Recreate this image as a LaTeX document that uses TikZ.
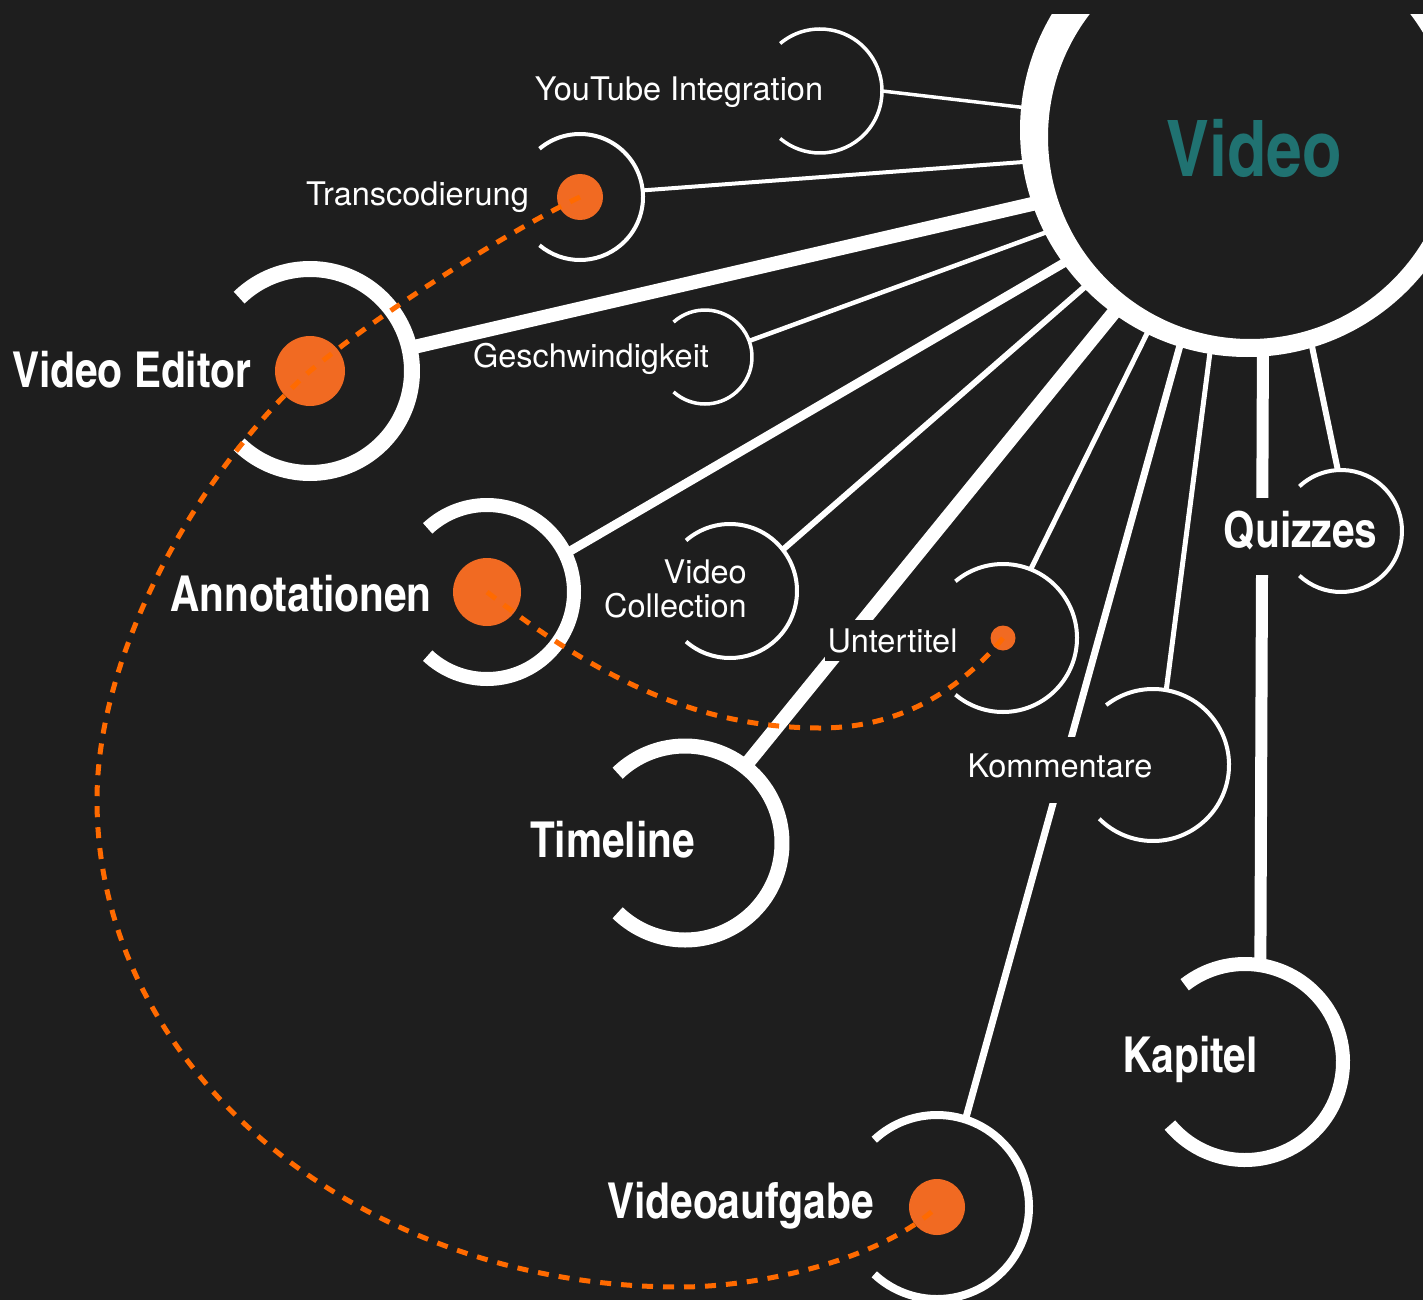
\documentclass[tikz,border=0pt]{standalone}
\usepackage{fontspec}
\setmainfont{TeX Gyre Heros}
\newfontfamily\condfont{texgyreheroscn-bold}[Extension=.otf]
\definecolor{bg}{RGB}{30,30,30}
\definecolor{videoteal}{RGB}{32,114,113}
\definecolor{dotorange}{RGB}{241,106,34}
\definecolor{dashorange}{RGB}{255,106,0}
\tikzset{
  hub/.style={circle,minimum size=428pt,inner sep=0pt},
  spot/.style={circle,inner sep=0pt},
  link/.style={white},
  thin label/.style={text=white,font=\fontsize{32.5}{34}\selectfont,inner sep=0pt},
  big label/.style={text=white,font={\condfont\fontsize{49.5}{52}\selectfont},inner sep=0pt},
  gap/.style={fill=bg,inner xsep=3pt},
  trail/.style={dashorange,line width=5pt,dash pattern=on 11pt off 10pt},
}
\newcommand{\openarc}[5]{\draw[white,line width=#3] (#1.center) ++(#4:#2) arc[start angle=#4,end angle=#5,radius=#2];}
\begin{document}
\begin{tikzpicture}[x=1pt,y=1pt]
\useasboundingbox (0,0) rectangle (1423,-1300);
\fill[bg] (0,0) rectangle (1423,-1300);
\clip (0,0) rectangle (1423,-1300);
% centres
\node[hub] (video) at (1248,-135) {};
\node[spot,minimum size=124pt] (yt) at (820,-91) {};
\node[spot,minimum size=126pt] (transcod) at (580,-197) {};
\node[spot,minimum size=204pt] (editor) at (310,-371) {};
\node[spot,minimum size=94pt] (speed) at (705,-357) {};
\node[spot,minimum size=174pt] (annot) at (487,-592) {};
\node[spot,minimum size=134pt] (collection) at (730,-591) {};
\node[spot,minimum size=194pt] (timeline) at (685,-843) {};
\node[spot,minimum size=148pt] (subtitle) at (1003,-638) {};
\node[spot,minimum size=152pt] (comments) at (1153,-765) {};
\node[spot,minimum size=122pt] (quiz) at (1341,-531) {};
\node[spot,minimum size=196pt] (chapters) at (1245,-1062) {};
\node[spot,minimum size=184pt] (tasks) at (937,-1207) {};
% links to the hub
\draw[link,line width=3.5pt] (yt.0) -- (video.173);
\draw[link,line width=4pt] (transcod.6) -- (video.187);
\draw[link,line width=14pt] (editor.13) -- (video.198);
\draw[link,line width=4.5pt] (speed.20) -- (video.206);
\draw[link,line width=9pt] (annot.26) -- (video.215);
\draw[link,line width=6pt] (collection.38) -- (video.223);
\draw[link,line width=14pt] (timeline.52) -- (video.233);
\draw[link,line width=5pt] (subtitle.68) -- (video.243);
\draw[link,line width=7pt] (tasks.72) -- (video.252);
\draw[link,line width=5pt] (comments.80) -- (video.260);
\draw[link,line width=12pt] (chapters.81) -- (video.274);
\draw[link,line width=6pt] (quiz.93) -- (video.287);
% hub ring
\begin{scope}
\clip (0,-15) rectangle (1423,-1300);
\fill[white,even odd rule] (1247,-130) circle[radius=227] (1250,-137) circle[radius=202];
\end{scope}
\node[text=videoteal,font={\condfont\fontsize{78}{80}\selectfont},inner sep=0pt,anchor=base] (videolabel) at (1254,-177) {Video};
% labels lying on links
\node[thin label,gap,inner ysep=8pt,anchor=base] (subtitlelabel) at (892.5,-652) {Untertitel};
\node[thin label,gap,inner ysep=16pt,text depth=10pt,anchor=base] (commentslabel) at (1060,-777) {Kommentare};
\node[big label,gap,inner ysep=13pt,text depth=15pt,anchor=base] (quizlabel) at (1300.5,-547) {Quizzes};
% open rings
\openarc{yt}{62}{3.5pt}{130}{-130}
\openarc{transcod}{63}{4pt}{130}{-130}
\openarc{editor}{102}{16pt}{134}{-134}
\openarc{speed}{47}{3.5pt}{132}{-132}
\openarc{annot}{87}{14pt}{133}{-133}
\openarc{collection}{67}{4pt}{131}{-131}
\openarc{timeline}{97}{15pt}{134}{-134}
\openarc{subtitle}{74}{4pt}{130}{-130}
\openarc{comments}{76}{4pt}{128}{-135}
\openarc{quiz}{61}{4pt}{133}{-133}
\openarc{chapters}{98}{14pt}{128}{-140}
\openarc{tasks}{92}{8pt}{133}{-133}
% dots
\fill[dotorange] (transcod) circle[radius=23];
\fill[dotorange] (editor) circle[radius=35];
\fill[dotorange] (annot) circle[radius=34];
\fill[dotorange] (subtitle) circle[radius=12.5];
\fill[dotorange] (tasks) circle[radius=28];
% dashed trails
\draw[trail] (transcod.center) .. controls (520,-225) and (390,-305) .. (editor.center)
  .. controls (200,-470) and (97,-650) .. (97,-800)
  .. controls (97,-1069) and (358,-1287) .. (680,-1287)
  .. controls (760,-1287) and (880,-1260) .. (tasks.center);
\draw[trail] (annot.center) .. controls (600,-680) and (700,-728) .. (820,-728)
  .. controls (900,-728) and (960,-690) .. (subtitle.center);
% labels
\node[thin label,anchor=base] (ytlabel) at (679,-101) {YouTube Integration};
\node[thin label,anchor=base] (transcodlabel) at (417.5,-205) {Transcodierung};
\node[thin label,anchor=base] (speedlabel) at (591,-367) {Geschwindigkeit};
\node[thin label,align=right,anchor=base east] (collectionlabel) at (747,-617) {Video\\Collection};
\node[big label,anchor=base] (editorlabel) at (131.5,-387) {Video Editor};
\node[big label,anchor=base] (annotlabel) at (301,-611) {Annotationen};
\node[big label,anchor=base] (timelinelabel) at (612.5,-857) {Timeline};
\node[big label,anchor=base] (chapterslabel) at (1190,-1072) {Kapitel};
\node[big label,anchor=base] (taskslabel) at (740.5,-1218) {Videoaufgabe};
\end{tikzpicture}
\end{document}
